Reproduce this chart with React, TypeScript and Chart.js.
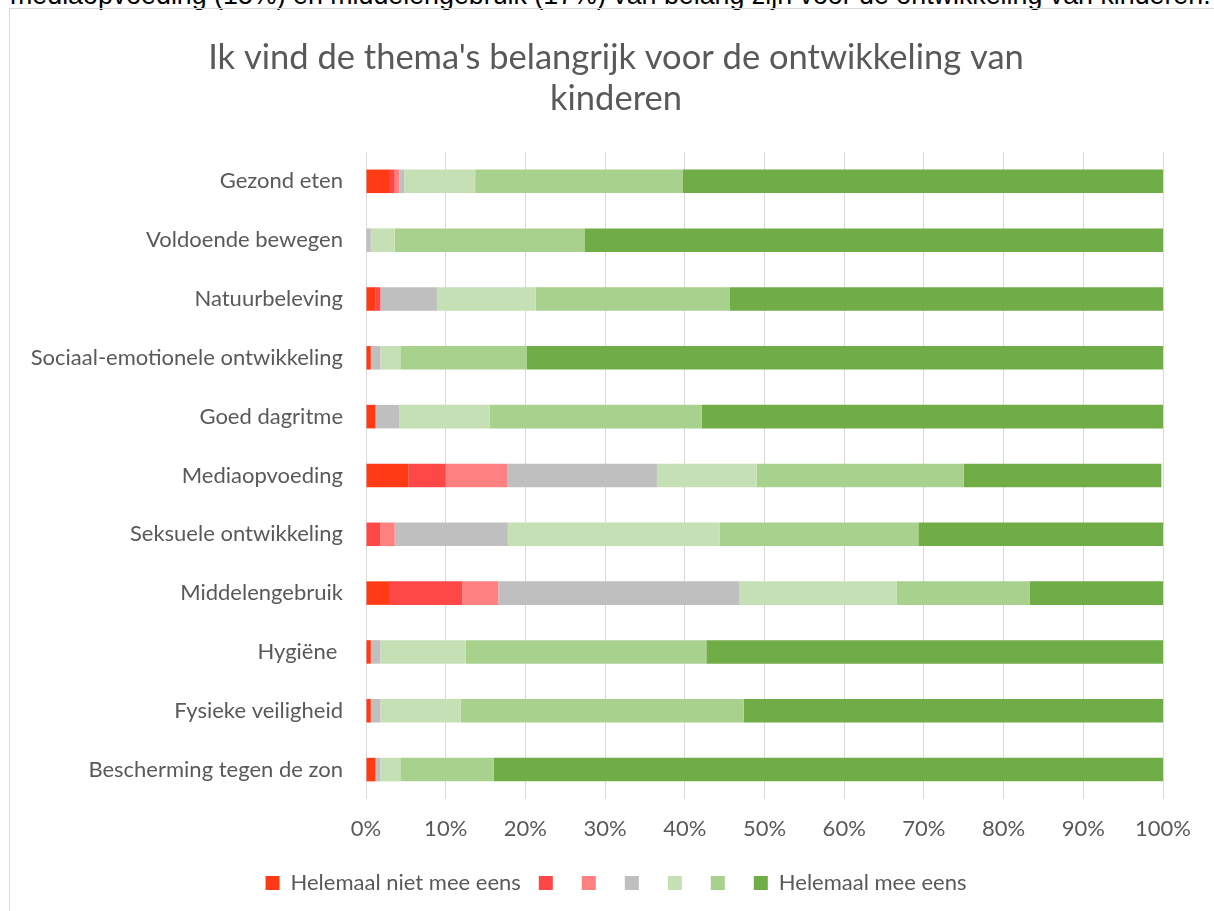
import React, { useEffect, useRef } from "react";
import { Chart, registerables } from "chart.js";
Chart.register(...registerables);

const categories = [
  "Gezond eten",
  "Voldoende bewegen",
  "Natuurbeleving",
  "Sociaal-emotionele ontwikkeling",
  "Goed dagritme",
  "Mediaopvoeding",
  "Seksuele ontwikkeling",
  "Middelengebruik",
  "Hygiëne ",
  "Fysieke veiligheid",
  "Bescherming tegen de zon",
];

const seriesLabels = ["Helemaal niet mee eens", "", "", "", "", "", "Helemaal mee eens"];

const s1 = [3.0, 0, 1.2, 0.6, 1.2, 5.3, 0, 3.0, 0.6, 0.6, 1.2];
const s2 = [0.6, 0, 0.6, 0, 0, 4.7, 1.8, 9.1, 0, 0, 0];
const s3 = [0.6, 0, 0, 0, 0, 7.7, 1.8, 4.5, 0, 0, 0];
const s4 = [0.6, 0.6, 7.1, 1.2, 3.0, 18.8, 14.2, 30.2, 1.2, 1.2, 0.6];
const s5 = [8.9, 3.0, 12.4, 2.5, 11.3, 12.5, 26.6, 19.8, 10.7, 10.1, 2.5];
const s6 = [26.0, 23.8, 24.3, 15.9, 26.6, 26.0, 24.9, 16.7, 30.2, 35.5, 11.7];
const s7 = [60.3, 72.6, 54.4, 79.8, 57.9, 24.8, 30.7, 16.7, 57.3, 52.6, 84.0];

const seriesValues = [s1, s2, s3, s4, s5, s6, s7];
const seriesColors = ["#FF3A14", "#FF4747", "#FF8080", "#BFBFBF", "#C5E0B4", "#A9D18E", "#70AD47"];

const xTicks = [0, 10, 20, 30, 40, 50, 60, 70, 80, 90, 100];

const titleLines = ["Ik vind de thema's belangrijk voor de ontwikkeling van", "kinderen"];
const introText =
  "mediaopvoeding (15%) en middelengebruik (17%) van belang zijn voor de ontwikkeling van kinderen.";

const W = 1228;
const H = 911;
const PLOT_LEFT = 366;
const PLOT_RIGHT = 1163;
const PAD_LEFT = 4;

export default function App() {
  const ref = useRef<HTMLCanvasElement | null>(null);

  useEffect(() => {
    if (!ref.current) return;
    const textColor = "#595959";
    const font = "Lato, 'Open Sans', sans-serif";
    const chart = new Chart(ref.current, {
      type: "bar",
      data: {
        labels: categories,
        datasets: seriesValues.map((vals, i) => ({
          label: seriesLabels[i],
          data: vals,
          backgroundColor: seriesColors[i],
          borderWidth: 0,
          barPercentage: 0.4,
          categoryPercentage: 1,
        })),
      },
      options: {
        indexAxis: "y",
        animation: false,
        responsive: false,
        maintainAspectRatio: false,
        layout: { padding: { left: PAD_LEFT, right: 0, top: 0, bottom: 7 } },
        plugins: {
          tooltip: { enabled: false },
          title: {
            display: true,
            text: titleLines,
            color: textColor,
            font: { family: font, size: 34.5, weight: "normal", lineHeight: 1.18 },
            padding: { top: 38, bottom: 32.5 },
          },
          legend: {
            position: "bottom",
            labels: {
              color: textColor,
              font: { family: font, size: 22 },
              boxWidth: 14,
              boxHeight: 14,
              padding: 18,
            },
          },
        },
        scales: {
          x: {
            stacked: true,
            min: 0,
            max: 100,
            afterBuildTicks: (s: any) => {
              s.ticks = xTicks.map((v) => ({ value: v }));
            },
            ticks: {
              color: textColor,
              font: { family: font, size: 22 },
              padding: 17,
              maxRotation: 0,
              callback: (v: any) => v + "%",
            },
            grid: { color: "#D9D9D9", lineWidth: 1, drawTicks: false },
            border: { display: false },
            afterFit: (s: any) => {
              s.paddingRight = W - PLOT_RIGHT;
              s.height = 55;
            },
          },
          y: {
            stacked: true,
            ticks: {
              color: textColor,
              font: { family: font, size: 22 },
              padding: 23,
            },
            grid: { display: false, drawTicks: false },
            border: { display: false },
            afterFit: (s: any) => {
              s.width = PLOT_LEFT - PAD_LEFT;
            },
          },
        },
      },
    });
    return () => chart.destroy();
  }, []);

  return (
    <div style={{ position: "absolute", left: 0, top: 0, width: 1214, height: 911, overflow: "hidden", background: "#fff" }}>
      <div
        style={{
          position: "absolute",
          left: 10,
          top: -18,
          fontFamily: "'Liberation Sans', Arial, sans-serif",
          fontSize: 26.8,
          lineHeight: "27px",
          whiteSpace: "nowrap",
          color: "#000",
        }}
      >
        {introText}
      </div>
      <div
        style={{
          position: "absolute",
          left: 9,
          top: 8,
          width: 1300,
          height: 1000,
          border: "1px solid #D9D9D9",
          boxSizing: "border-box",
        }}
      />
      <canvas ref={ref} width={W} height={H} style={{ position: "absolute", left: 0, top: 0, width: W, height: H }} />
    </div>
  );
}
